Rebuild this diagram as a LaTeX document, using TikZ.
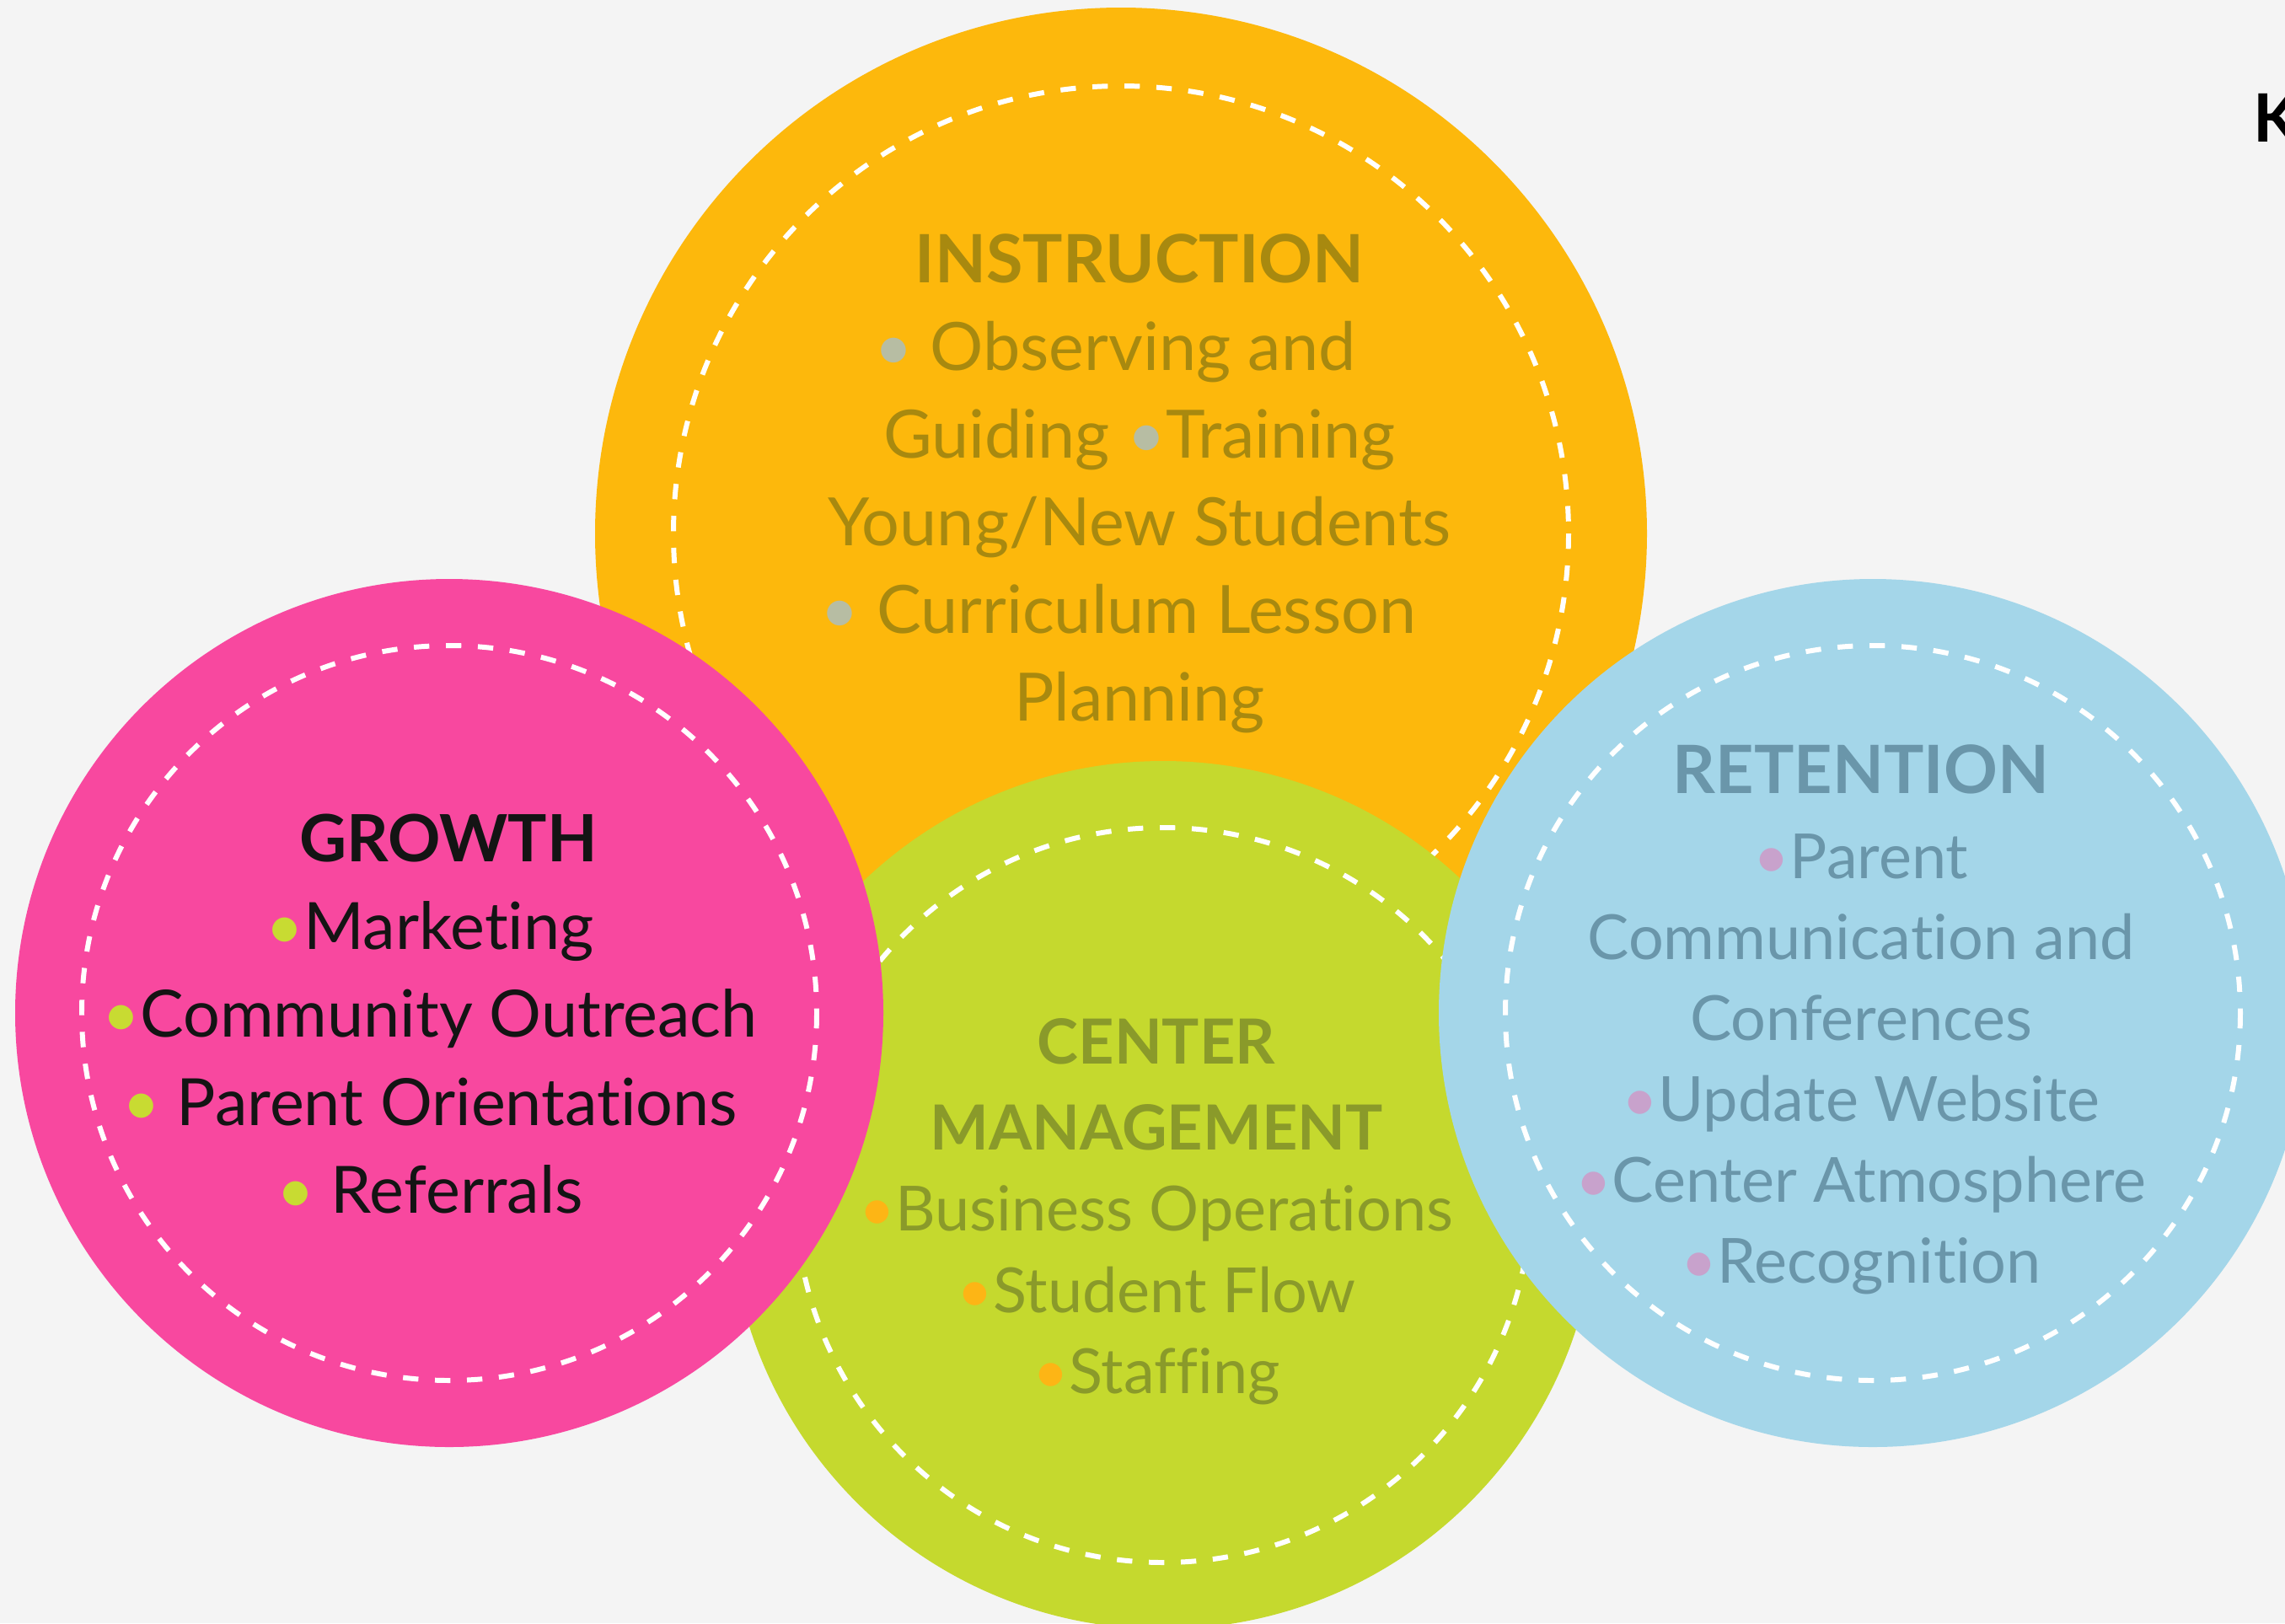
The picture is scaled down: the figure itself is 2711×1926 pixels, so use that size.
\documentclass[tikz,border=0pt]{standalone}
\usepackage{fontspec}
\setmainfont{Lato}[Ligatures=NoCommon]
\usetikzlibrary{positioning}

\definecolor{bgcol}{HTML}{F4F4F4}
\definecolor{instrfill}{HTML}{FDB80C}
\definecolor{instrtext}{HTML}{A8890F}
\definecolor{instrdot}{HTML}{B7BDA3}
\definecolor{growthfill}{HTML}{F8489F}
\definecolor{growthtext}{HTML}{141414}
\definecolor{growthdot}{HTML}{C8DB32}
\definecolor{mgmtfill}{HTML}{C5D92E}
\definecolor{mgmttext}{HTML}{8A9A2A}
\definecolor{mgmtdot}{HTML}{FDB515}
\definecolor{retfill}{HTML}{A4D6E9}
\definecolor{rettext}{HTML}{6A96AA}
\definecolor{retdot}{HTML}{C8A2CC}

\tikzset{
  disc/.style={fill=#1, draw=none},
  ring/.style={draw=white, line width=1.7pt, dash pattern=on 5.2pt off 5.6pt},
  listtext/.style={align=center, inner sep=0pt, text=#1},
}
\newcommand{\bul}[1]{\textcolor{#1}{•}}

\begin{document}
\begin{tikzpicture}[x=0.01cm,y=-0.01cm]
\path[use as bounding box, fill=bgcol] (0,0) rectangle (2711,1926);
\clip (0,0) rectangle (2711,1926);
% instruction
\fill[disc=instrfill] (1330,633) circle [radius=624];
\draw[ring] (1330,633) circle [radius=531];
\node[listtext=instrtext, font=\fontsize{22.5pt}{29.6pt}\selectfont] (instr) at (1352,574)
  {\textbf{INSTRUCTION}\\ \bul{instrdot} Observing and\rule{0.58cm}{0pt}\\ Guiding \bul{instrdot}Training\\ Young/New Students\\ \bul{instrdot} Curriculum Lesson\rule{0.5cm}{0pt}\\ Planning};
% center management
\fill[disc=mgmtfill] (1380,1418) circle [radius=515];
\draw[ring] (1380,1418) circle [radius=436];
\node[listtext=mgmttext, font=\fontsize{21pt}{27.4pt}\selectfont] (mgmt) at (1372,1438)
  {\textbf{CENTER}\\[1.5pt] \textbf{MANAGEMENT}\\ \bul{mgmtdot}Business Operations\\ \bul{mgmtdot}Student Flow\\ \bul{mgmtdot}Staffing};
% growth
\fill[disc=growthfill] (533,1202) circle [radius=515];
\draw[ring] (533,1202) circle [radius=436];
\node[listtext=growthtext, font=\fontsize{22pt}{29.7pt}\selectfont] (growth) at (510,1203)
  {\hspace*{0.44cm}\textbf{GROWTH}\\ \bul{growthdot}Marketing\\ \bul{growthdot}Community Outreach\\ \bul{growthdot} Parent Orientations\\ \bul{growthdot} Referrals};
% retention
\fill[disc=retfill] (2222,1202) circle [radius=515];
\draw[ring] (2222,1202) circle [radius=436];
\node[listtext=rettext, font=\fontsize{21pt}{27.3pt}\selectfont] (retention) at (2208,1210)
  {\textbf{\fontsize{22.5pt}{27.3pt}\selectfont RETENTION}\\[1.5pt] \bul{retdot}Parent\\ Communication and\\ Conferences\\ \bul{retdot}Update Website\\ \bul{retdot}Center Atmosphere\\ \bul{retdot}Recognition};
% cut-off letter at the corner
\node[anchor=base west, inner sep=0pt, font=\fontsize{22.5pt}{27pt}\selectfont\bfseries] (brand) at (2673,168) {K};
\end{tikzpicture}
\end{document}
